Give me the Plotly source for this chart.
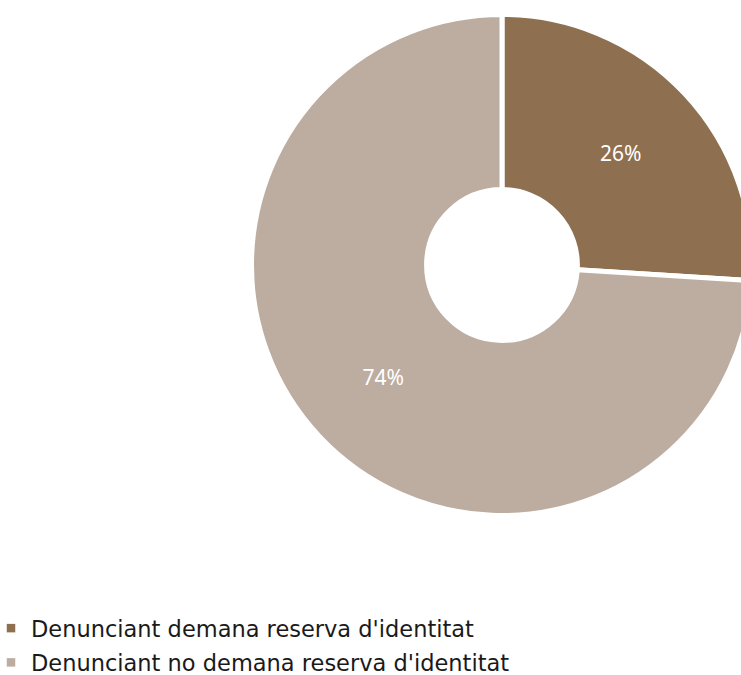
import plotly.graph_objects as go

labels = ["Denunciant demana reserva d'identitat", "Denunciant no demana reserva d'identitat"]
values = [26, 74]
colors = ["#8E7051", "#BDADA1"]

W, H = 760, 675
cx, cy, r = 502, 265, 250.5

fig = go.Figure()
fig.add_trace(go.Pie(
    labels=labels, values=values, sort=False, direction="clockwise", rotation=0,
    hole=0.301,
    marker=dict(colors=colors, line=dict(color="white", width=5)),
    texttemplate="%{percent:.0%}", textposition="inside", insidetextorientation="horizontal",
    textfont=dict(color="white", size=21, family="Noto Sans"),
    showlegend=False, hoverinfo="label+percent",
    domain=dict(x=[(cx - r) / W, (cx + r) / W], y=[(H - (cy + r)) / H, (H - (cy - r)) / H]),
))
for i, (lab, col) in enumerate(zip(labels, colors)):
    fig.add_trace(go.Scatter(x=[None], y=[None], mode="markers", name=lab, legendgroup=f"g{i}",
                             marker=dict(symbol="square", size=8.5, color=col)))

fig.update_layout(
    width=W, height=H, margin=dict(l=0, r=0, t=0, b=0, autoexpand=False),
    paper_bgcolor="white", plot_bgcolor="white",
    xaxis=dict(visible=False), yaxis=dict(visible=False),
    legend=dict(x=-9 / W, y=-9 / H, xanchor="left", yanchor="bottom", orientation="v",
                font=dict(size=22.5, family="DejaVu Sans", color="#1a1a1a"), itemwidth=30,
                tracegroupgap=2, bgcolor="rgba(0,0,0,0)"),
)
fig.write_html("out.html", config={"displayModeBar": False},
               post_script="document.body.style.margin='0';document.body.style.overflow='hidden';")
